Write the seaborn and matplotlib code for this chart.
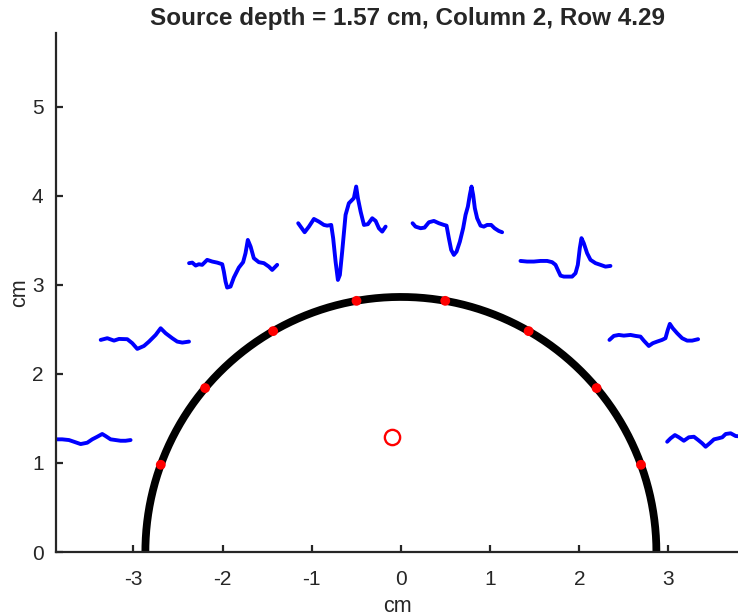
import numpy as np
import pandas as pd
import matplotlib
matplotlib.use("Agg")
import matplotlib.pyplot as plt
import seaborn as sns

# ---------------- data ----------------
title = "Source depth = 1.57 cm, Column 2, Row 4.29"
head_radius = 2.865            # cm
trace_radius = 3.75            # cm
trace_width = 1.0              # cm
electrode_angles = [160, 140, 120, 100, 80, 60, 40, 20]   # degrees
source_x = -0.10
source_y = 1.295

t1 = [0.0, 0.133, 0.226, 0.302, 0.358, 0.433, 0.507, 0.563, 0.619, 0.675, 0.713, 0.769, 0.825, 0.881, 0.937, 0.993]
v1 = [-0.015, -0.017, -0.017, -0.025, -0.044, -0.070, -0.055, -0.017, 0.012, 0.043, 0.020, -0.017, -0.025, -0.033, -0.033, -0.025]

t2 = [0.007, 0.081, 0.156, 0.212, 0.305, 0.361, 0.417, 0.492, 0.548, 0.623, 0.679, 0.735, 0.809, 0.865, 0.922, 0.997]
v2 = [-0.028, -0.009, -0.036, -0.017, -0.020, -0.065, -0.129, -0.096, -0.047, 0.028, 0.103, 0.047, -0.009, -0.047, -0.058, -0.047]

t3 = [0.0, 0.036, 0.074, 0.110, 0.147, 0.203, 0.260, 0.316, 0.372, 0.390, 0.409, 0.427, 0.465, 0.502, 0.558,
      0.606, 0.633, 0.659, 0.690, 0.726, 0.782, 0.839, 0.895, 0.932, 0.988]
v3 = [-0.003, 0.003, -0.030, -0.015, -0.022, 0.034, 0.015, 0.003, -0.015, -0.097, -0.209, -0.277, -0.266, -0.165, -0.053,
      0.008, 0.109, 0.258, 0.183, 0.053, 0.008, -0.003, -0.042, -0.079, -0.022]

t4 = [0.0, 0.027, 0.072, 0.120, 0.176, 0.232, 0.288, 0.325, 0.370, 0.392, 0.419, 0.445, 0.467, 0.493, 0.531, 0.568,
      0.594, 0.624, 0.650, 0.669, 0.700, 0.737, 0.781, 0.830, 0.868, 0.905, 0.942, 0.980]
v4 = [0.0, -0.038, -0.101, -0.038, 0.048, 0.018, -0.019, -0.027, -0.019, -0.169, -0.431, -0.637, -0.581, -0.319, 0.094, 0.225,
      0.251, 0.282, 0.412, 0.282, 0.130, -0.019, -0.011, 0.056, 0.026, -0.057, -0.094, -0.038]

t5 = [-0.02, 0.013, 0.070, 0.114, 0.163, 0.219, 0.275, 0.331, 0.361, 0.387, 0.413, 0.443, 0.473, 0.510, 0.547, 0.574,
      0.600, 0.622, 0.641, 0.659, 0.678, 0.704, 0.742, 0.779, 0.816, 0.861, 0.899, 0.947, 0.984]
v5 = [0.0, -0.038, -0.056, -0.049, 0.011, 0.026, 0.0, -0.019, -0.027, -0.169, -0.300, -0.356, -0.319, -0.207, -0.056, 0.094,
      0.187, 0.319, 0.412, 0.319, 0.169, 0.056, -0.027, -0.038, -0.019, -0.019, -0.056, -0.087, -0.101]

t6 = [-0.034, 0.040, 0.116, 0.191, 0.265, 0.321, 0.359, 0.385, 0.415, 0.452, 0.508, 0.545, 0.583, 0.609, 0.631, 0.650,
      0.676, 0.713, 0.751, 0.807, 0.863, 0.919, 0.975]
v6 = [0.022, 0.015, 0.015, 0.022, 0.022, 0.008, -0.022, -0.079, -0.143, -0.154, -0.154, -0.154, -0.116, -0.022, 0.165, 0.278,
      0.221, 0.109, 0.034, -0.003, -0.022, -0.042, -0.034]

t7 = [-0.034, 0.015, 0.071, 0.127, 0.202, 0.258, 0.314, 0.351, 0.407, 0.452, 0.500, 0.556, 0.594, 0.620, 0.643, 0.676,
      0.725, 0.781, 0.837, 0.893, 0.960]
v7 = [-0.028, 0.017, 0.028, 0.020, 0.028, 0.017, 0.009, -0.036, -0.096, -0.065, -0.047, -0.028, -0.009, 0.084, 0.152, 0.103,
      0.047, -0.009, -0.036, -0.036, -0.020]

t8 = [-0.038, 0.000, 0.049, 0.093, 0.149, 0.205, 0.262, 0.310, 0.355, 0.393, 0.438, 0.487, 0.535, 0.580, 0.618, 0.674,
      0.730, 0.800]
v8 = [-0.044, -0.006, 0.031, 0.006, -0.033, 0.006, 0.012, -0.025, -0.062, -0.100, -0.062, -0.017, -0.006, 0.006, 0.043, 0.051,
      0.020, 0.015]

trace_times = [t1, t2, t3, t4, t5, t6, t7, t8]
trace_values = [v1, v2, v3, v4, v5, v6, v7, v8]

x_ticks = [-3, -2, -1, 0, 1, 2, 3]
y_ticks = [0, 1, 2, 3, 4, 5]
x_limits = (-3.867, 3.78)
y_limits = (0, 5.83)

# ---------------- build tables ----------------
rows = []
for k, (ang, tt, vv) in enumerate(zip(electrode_angles, trace_times, trace_values)):
    a = np.deg2rad(ang)
    cx = trace_radius * np.cos(a)
    cy = trace_radius * np.sin(a)
    for i, (t, v) in enumerate(zip(tt, vv)):
        rows.append({"trace": k, "order": i,
                     "x": cx + (t - 0.5) * trace_width,
                     "y": cy + v})
traces = pd.DataFrame(rows)

theta = np.linspace(0, np.pi, 400)
arc = pd.DataFrame({"x": head_radius * np.cos(theta), "y": head_radius * np.sin(theta)})
ea = np.deg2rad(electrode_angles)
electrodes = pd.DataFrame({"x": head_radius * np.cos(ea), "y": head_radius * np.sin(ea)})

# ---------------- plot ----------------
sns.set_theme(style="ticks")
plt.rcParams["font.family"] = ["Liberation Sans", "DejaVu Sans"]

fig = plt.figure(figsize=(7.38, 6.16), dpi=100)
ax = fig.add_axes([56 / 738, 64 / 616, (738 - 56) / 738, (552 - 33) / 616])

ax.plot(arc["x"], arc["y"], color="black", lw=5.6, solid_capstyle="butt", zorder=2, clip_on=False)
sns.scatterplot(data=electrodes, x="x", y="y", ax=ax, color="#ff0000", s=50, edgecolor="none",
                zorder=3, legend=False)
ax.plot([source_x], [source_y], marker="o", ms=11, mfc="white", mec="#ff0000", mew=1.7, ls="none", zorder=3)

for k, grp in traces.groupby("trace"):
    sns.lineplot(data=grp, x="x", y="y", ax=ax, sort=False, estimator=None, color="#0000ff",
                 lw=2.8, legend=False, zorder=2)

ax.set_xlim(*x_limits)
ax.set_ylim(*y_limits)
ax.set_xticks(x_ticks)
ax.set_yticks(y_ticks)
ax.set_xticklabels([str(v) for v in x_ticks])
ax.set_yticklabels([str(v) for v in y_ticks])

for side in ["top", "right"]:
    ax.spines[side].set_visible(False)
for side in ["left", "bottom"]:
    ax.spines[side].set_color("#262626")
    ax.spines[side].set_linewidth(1.6)
ax.tick_params(direction="in", length=5, width=1.6, colors="#262626", labelsize=15, pad=9)
ax.tick_params(axis="x", pad=13)

ax.set_xlabel("cm", fontsize=15.5, color="#262626", labelpad=5)
ax.set_ylabel("cm", fontsize=15.5, color="#262626", labelpad=1)
fig.suptitle(title, fontsize=17.5, fontweight="bold", x=(148 + 668) / 2 / 738, y=1 - 18 / 616, va="center")

fig.savefig("out.png", dpi=100)
